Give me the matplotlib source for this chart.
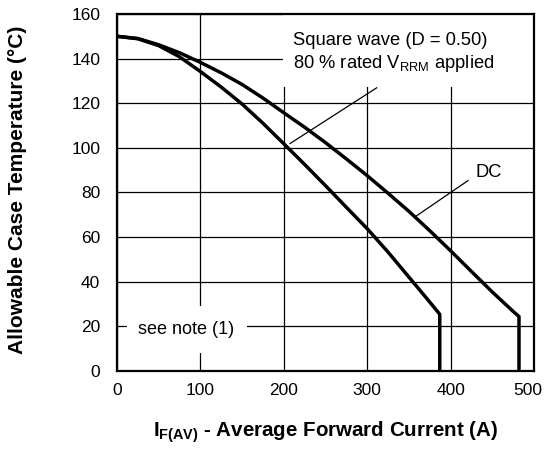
import matplotlib
matplotlib.use("Agg")
import matplotlib.pyplot as plt
from matplotlib.patches import Rectangle
from matplotlib.transforms import ScaledTranslation

plt.rcParams['font.family'] = ['Liberation Sans', 'DejaVu Sans']
plt.rcParams['mathtext.fontset'] = 'custom'
plt.rcParams['mathtext.rm'] = 'Liberation Sans'
plt.rcParams['mathtext.bf'] = 'Liberation Sans:bold'

# Data
sq_x = [0, 25, 50, 75, 100, 125, 150, 175, 200, 225, 250, 275, 300, 325, 350, 375, 387, 387]
sq_y = [150, 148.9, 145.8, 140.8, 134.2, 127.2, 119.6, 111, 101.8, 92.5, 83, 73.3, 63.7, 53.2, 42, 30.8, 25.3, 0]
dc_x = [0, 25, 50, 75, 100, 125, 150, 175, 200, 225, 250, 275, 300, 325, 350, 375, 400, 425, 450, 475, 482, 482]
dc_y = [150, 149, 146.2, 142.6, 138.3, 133.6, 128.4, 122.3, 115.7, 109.2, 102.3, 95, 87.5, 79.6, 71.5, 62.8, 53.8, 44.5, 35.3, 26.6, 24.3, 0]
x_ticks = [0, 100, 200, 300, 400, 500]
y_ticks = [0, 20, 40, 60, 80, 100, 120, 140, 160]

fig = plt.figure(figsize=(5.46, 4.49), dpi=100)
ax = fig.add_axes([117/546, 1 - 370.7/449, (534 - 117)/546, (370.7 - 14)/449])

ax.set_xlim(0, 500)
ax.set_ylim(0, 160)
ax.set_xticks(x_ticks)
ax.set_yticks(y_ticks)
ax.tick_params(length=0, labelsize=12.5)
ax.tick_params(axis='x', pad=9)
ax.tick_params(axis='y', pad=12)
ax.grid(True, color='black', lw=0.9)
ax.set_axisbelow(True)
for s in ax.spines.values():
    s.set_linewidth(1.6)
    s.set_zorder(6)

# nudge the last x tick label left so it stays inside the figure (as in reference)
last = ax.get_xticklabels()[-1]
last.set_transform(last.get_transform() + ScaledTranslation(-6/100, 0, fig.dpi_scale_trans))

# white masks behind annotations
ax.add_patch(Rectangle((199, 127.4), 301, 32.6, facecolor='white', edgecolor='none', zorder=1))
ax.add_patch(Rectangle((12, 8.1), 144, 20.7, facecolor='white', edgecolor='none', zorder=1))

ax.plot(sq_x, sq_y, color='black', lw=2.5, zorder=3, solid_joinstyle='round')
ax.plot(dc_x, dc_y, color='black', lw=2.5, zorder=3, solid_joinstyle='round')

# leader lines
ax.plot([207.5, 311.4], [101.9, 126.9], color='black', lw=0.9, zorder=4)
ax.plot([359.3, 421], [69.5, 85.3], color='black', lw=0.9, zorder=4)

ax.text(211, 148.3, 'Square wave (D = 0.50)', fontsize=13.2, va='center', ha='left', zorder=5)
ax.text(211, 137.6, r'80 % rated V$_{\mathrm{RRM}}$ applied', fontsize=13.2, va='center', ha='left', zorder=5)
ax.text(429.5, 88.7, 'DC', fontsize=13.2, va='center', ha='left', zorder=5)
ax.text(24.7, 18.3, 'see note (1)', fontsize=13, va='center', ha='left', zorder=5)

fig.text(17.7/546, 1 - 190/449, 'Allowable Case Temperature (°C)', fontsize=15,
         fontweight='bold', rotation=90, ha='center', va='center')
fig.text(326/546, 1 - 432/449, r'I$_{\mathbf{F(AV)}}$ - Average Forward Current (A)',
         fontsize=14.8, fontweight='bold', ha='center', va='center')

fig.savefig('out.png', dpi=100)
